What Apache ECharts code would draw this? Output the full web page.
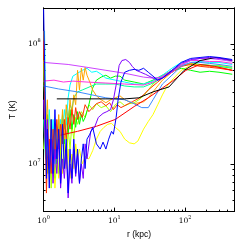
<!DOCTYPE html>
<html><head><meta charset="utf-8">
<script src="https://cdn.jsdelivr.net/npm/echarts@6/dist/echarts.min.js"></script>
<style>html,body{margin:0;padding:0;background:#fff}#c{width:240px;height:244px}</style>
</head><body><div id="c"></div>
<script>
const xMajor = [1, 10, 100];
const xMinor = [2,3,4,5,6,7,8,9,20,30,40,50,60,70,80,90,200,300,400];
const yMajor = [1e7, 1e8];
const yMinor = [5e6,6e6,7e6,8e6,9e6,2e7,3e7,4e7,5e7,6e7,7e7,8e7,9e7];

const blueNoisy = [[1,1.95e8],[1.031,7.29e7],[1.063,2.35e7],[1.096,7.57e6],[1.131,1.95e7],[1.202,6.28e6],[1.279,2.35e7],[1.359,8.32e6],[1.445,2.84e7],[1.537,1.10e7],[1.634,1.95e7],[1.738,6.89e6],[1.848,2.14e7],[1.965,9.14e6],[2.089,1.61e7],[2.222,5.71e6],[2.362,1.33e7],[2.512,7.57e6],[2.671,1.61e7],[2.840,8.32e6],[3.020,1.33e7],[3.211,6.89e6],[3.415,1.10e7],[3.631,1.47e7],[3.861,9.14e6],[4.105,1.61e7],[4.50,1.77e7],[4.94,2.02e7],[5.58,1.47e7],[6.31,1.33e7],[6.92,1.52e7],[7.59,1.33e7],[8.32,1.61e7],[9.12,1.87e7],[9.70,1.77e7],[10.6,2.44e7],[11.3,3.43e7],[12.4,4.82e7],[14.02,5.82e7],[16.34,6.04e7],[19.05,6.15e7],[22.2,6.04e7],[25.9,6.28e7],[30.2,5.82e7],[35.2,5.40e7],[41.1,5.00e7],[47.9,5.20e7],[65.1,6.04e7],[88.4,7.03e7],[120,7.59e7],[163,7.73e7],[222,7.87e7],[302,7.73e7],[464,7.43e7]];
const violet = [[1,3.43e7],[1.063,1.33e7],[1.131,2.35e7],[1.202,9.14e6],[1.279,1.61e7],[1.359,6.89e6],[1.445,1.33e7],[1.537,8.32e6],[1.634,1.61e7],[1.738,6.28e6],[1.848,1.10e7],[1.965,7.57e6],[2.089,1.33e7],[2.222,5.20e6],[2.362,1.00e7],[2.512,6.89e6],[2.671,1.33e7],[2.840,7.87e6],[3.020,1.21e7],[3.211,6.89e6],[3.415,1.00e7],[3.631,7.57e6],[3.861,1.47e7],[4.105,1.10e7],[4.64,1.87e7],[5.25,2.02e7],[5.93,2.44e7],[6.92,2.64e7],[7.82,2.73e7],[8.84,2.84e7],[9.70,3.43e7],[10.6,4.55e7],[11.7,6.64e7],[12.8,7.29e7],[14.5,7.43e7],[16.34,7.03e7],[17.9,6.52e7],[20.3,6.04e7],[23.6,5.82e7],[27.5,5.60e7],[33.1,5.30e7],[41.1,5.00e7],[50.9,5.30e7],[65.1,5.93e7],[88.4,6.90e7],[120,7.43e7],[163,7.59e7],[222,7.73e7],[302,7.59e7],[464,7.29e7]];
const green = [[1,7.29e7],[1.063,1.61e7],[1.131,2.58e7],[1.202,1.00e7],[1.279,1.95e7],[1.359,8.32e6],[1.445,2.14e7],[1.537,1.00e7],[1.634,2.35e7],[1.738,1.33e7],[1.848,2.58e7],[1.965,1.47e7],[2.089,2.44e7],[2.222,1.77e7],[2.362,2.84e7],[2.512,1.95e7],[2.671,2.58e7],[2.840,2.02e7],[3.020,2.73e7],[3.211,2.14e7],[3.415,2.58e7],[3.631,2.26e7],[3.861,2.44e7],[4.365,3.12e7],[4.94,4.30e7],[5.58,5.00e7],[6.51,5.30e7],[7.59,5.50e7],[8.84,5.20e7],[10.31,5.40e7],[12.02,5.40e7],[14.02,5.00e7],[19.05,4.82e7],[25.9,4.64e7],[35.2,5.00e7],[47.9,5.50e7],[65.1,5.93e7],[88.4,6.28e7],[120,6.04e7],[163,5.82e7],[222,5.93e7],[302,5.82e7],[464,5.60e7]];
const cyan = [[1.031,1.29e8],[1.063,3.43e7],[1.131,1.61e7],[1.202,2.84e7],[1.279,1.33e7],[1.359,2.35e7],[1.445,1.00e7],[1.537,1.95e7],[1.634,1.33e7],[1.738,2.35e7],[1.848,1.61e7],[1.965,2.84e7],[2.089,2.14e7],[2.222,3.56e7],[2.362,4.55e7],[2.59,5.40e7],[3.020,5.71e7],[3.52,6.04e7],[4.105,6.28e7],[4.786,5.82e7],[5.58,5.93e7],[6.51,5.60e7],[7.59,5.20e7],[10.31,5.00e7],[14.02,4.82e7],[19.05,4.64e7],[25.9,4.64e7],[35.2,4.91e7],[47.9,5.50e7],[65.1,6.28e7],[88.4,7.03e7],[120,7.29e7],[163,7.16e7],[222,7.03e7],[302,7.03e7],[464,6.76e7]];
const aqua = [[1,2.35e7],[1.063,1.10e7],[1.131,1.95e7],[1.202,8.32e6],[1.279,1.61e7],[1.359,1.10e7],[1.445,1.77e7],[1.537,1.33e7],[1.634,2.14e7],[1.738,1.61e7],[1.848,2.44e7],[1.965,1.95e7],[2.089,2.84e7],[2.222,2.44e7],[2.362,3.12e7],[2.512,2.84e7],[2.671,3.56e7],[2.840,3.43e7],[3.020,3.99e7],[3.52,4.14e7],[4.105,4.30e7],[4.786,4.47e7],[5.58,4.64e7],[7.59,4.64e7],[10.31,4.64e7],[14.02,4.47e7],[19.05,4.39e7],[25.9,4.39e7],[35.2,4.73e7],[47.9,5.30e7],[65.1,6.04e7],[88.4,6.64e7],[120,6.90e7],[163,6.76e7],[222,6.64e7],[302,6.52e7],[464,6.28e7]];
const yellowGreen = [[1,1.33e7],[1.063,2.35e7],[1.131,8.32e6],[1.202,1.61e7],[1.279,6.28e6],[1.359,1.33e7],[1.445,7.57e6],[1.537,1.61e7],[1.634,8.32e6],[1.738,1.33e7],[1.848,9.14e6],[1.965,1.61e7],[2.089,1.00e7],[2.222,1.95e7],[2.362,1.33e7],[2.512,2.14e7],[2.671,1.61e7],[2.840,2.44e7],[3.020,2.14e7],[3.415,2.73e7],[3.861,2.44e7],[4.365,3.12e7],[4.94,2.84e7],[5.58,3.18e7],[6.51,2.95e7],[7.59,3.06e7],[8.84,2.73e7],[10.31,3.12e7],[12.02,3.30e7],[14.02,3.06e7],[16.34,3.18e7],[19.05,3.24e7],[22.2,3.43e7],[25.9,3.70e7],[30.2,4.14e7],[35.2,4.64e7],[47.9,5.40e7],[65.1,6.04e7],[88.4,6.64e7],[120,6.90e7],[163,6.76e7],[222,6.64e7],[302,6.64e7],[464,6.40e7]];
const orange = [[1,1.29e8],[1.063,1.61e7],[1.131,3.43e7],[1.202,1.10e7],[1.279,2.35e7],[1.359,9.14e6],[1.445,1.95e7],[1.537,1.21e7],[1.634,2.58e7],[1.738,1.33e7],[1.848,2.84e7],[1.965,1.61e7],[2.089,3.12e7],[2.222,2.14e7],[2.362,3.43e7],[2.512,2.58e7],[2.671,3.77e7],[2.840,3.12e7],[3.020,6.04e7],[3.211,4.14e7],[3.415,6.28e7],[3.631,5.00e7],[3.861,6.40e7],[4.105,5.50e7],[4.50,4.82e7],[4.94,4.14e7],[5.58,3.70e7],[6.51,3.43e7],[7.59,3.24e7],[8.84,3.43e7],[10.31,3.56e7],[12.02,3.70e7],[14.02,3.43e7],[16.34,3.30e7],[19.05,3.18e7],[22.2,3.24e7],[25.9,3.30e7],[30.2,3.56e7],[35.2,3.99e7],[41.1,4.47e7],[47.9,5.00e7],[65.1,5.82e7],[88.4,6.52e7],[120,6.90e7],[163,6.64e7],[222,6.52e7],[302,6.40e7],[464,6.04e7]];
const redNoisy = [[1,1.06e8],[1.063,1.33e7],[1.096,5.71e6],[1.131,1.10e7],[1.202,1.61e7],[1.279,8.32e6],[1.359,1.95e7],[1.445,1.10e7],[1.537,2.35e7],[1.634,1.33e7],[1.738,2.14e7],[1.848,1.47e7],[1.965,2.35e7],[2.089,1.61e7],[2.222,2.44e7],[2.362,1.95e7],[2.512,2.84e7],[2.671,2.14e7],[2.840,2.95e7],[3.020,2.35e7],[3.211,2.73e7],[3.52,2.44e7],[3.861,3.12e7],[4.365,2.73e7],[4.94,2.95e7],[5.58,3.18e7],[6.51,3.30e7],[7.59,3.06e7],[8.58,3.24e7],[9.70,2.84e7],[11.0,3.12e7],[12.4,2.95e7],[14.02,3.06e7],[15.8,3.18e7],[17.9,3.30e7],[20.3,3.43e7],[22.9,3.56e7],[25.9,3.77e7],[30.2,4.14e7],[35.2,4.47e7],[41.1,4.82e7],[47.9,5.20e7],[65.1,5.82e7],[88.4,6.52e7],[120,6.76e7],[163,6.52e7],[222,6.40e7],[302,6.28e7],[464,6.04e7]];
const yellow = [[1,7.29e7],[1.063,1.95e7],[1.131,9.14e6],[1.202,1.61e7],[1.279,7.57e6],[1.359,1.33e7],[1.445,6.28e6],[1.537,1.10e7],[1.634,7.57e6],[1.738,1.33e7],[1.848,8.32e6],[1.965,1.47e7],[2.089,9.14e6],[2.222,1.33e7],[2.362,7.57e6],[2.512,1.21e7],[2.671,9.14e6],[2.840,1.47e7],[3.020,1.10e7],[3.211,1.33e7],[3.52,1.00e7],[3.861,1.15e7],[4.365,1.10e7],[4.94,1.29e7],[5.58,1.61e7],[6.31,1.87e7],[7.13,2.02e7],[8.07,2.14e7],[9.12,2.18e7],[10.31,2.02e7],[12.02,1.87e7],[14.02,1.61e7],[16.34,1.50e7],[19.05,1.47e7],[21.5,1.55e7],[25.9,1.95e7],[30.2,2.26e7],[35.2,2.58e7],[41.1,3.12e7],[47.9,3.77e7],[55.8,4.47e7],[65.1,5.00e7],[88.4,6.04e7],[120,6.64e7],[163,6.76e7],[222,6.64e7],[302,6.52e7],[464,6.28e7]];
const lightPurple = [[1,7.03e7],[2.222,6.76e7],[4.105,6.40e7],[7.59,6.04e7],[14.02,5.71e7],[25.9,5.30e7],[35.2,5.20e7],[47.9,5.30e7],[65.1,5.82e7],[88.4,6.64e7],[120,7.29e7],[163,7.59e7],[222,7.59e7],[302,7.43e7],[464,7.16e7]];
const pink = [[1,4.91e7],[1.401,5.00e7],[1.905,4.82e7],[2.59,4.91e7],[4.105,4.82e7],[7.59,4.73e7],[14.02,4.64e7],[25.9,4.55e7],[35.2,4.82e7],[47.9,5.40e7],[65.1,6.04e7],[88.4,6.76e7],[120,7.29e7],[163,7.29e7],[222,7.16e7],[302,7.16e7],[464,6.90e7]];
const lightBlue = [[1,4.47e7],[1.634,4.22e7],[3.020,3.99e7],[5.58,3.70e7],[7.59,3.56e7],[10.31,3.49e7],[14.02,3.43e7],[19.05,3.18e7],[24.4,2.95e7],[30.2,2.95e7],[35.2,3.43e7],[41.1,3.99e7],[47.9,4.64e7],[65.1,5.50e7],[88.4,6.52e7],[120,7.03e7],[163,7.03e7],[222,6.90e7],[302,6.76e7],[464,6.52e7]];
const black = [[1.537,3.49e7],[2.222,3.49e7],[4.105,3.49e7],[7.59,3.49e7],[14.02,3.49e7],[22.2,3.56e7],[35.2,3.99e7],[59.3,4.39e7],[97.0,6.04e7],[163,7.29e7],[275,7.73e7],[464,7.29e7]];
const redSmooth = [[1.738,1.74e7],[3.020,1.87e7],[5.58,2.06e7],[10.31,2.35e7],[19.05,3.01e7],[30.2,3.56e7],[47.9,4.30e7],[69.2,5.00e7],[103,6.04e7],[163,6.76e7],[259,6.52e7],[464,6.04e7]];

const lines = [
  ['yellow', yellow, '#ffff00'],
  ['yellowGreen', yellowGreen, '#aaff00'],
  ['green', green, '#00ff00'],
  ['aqua', aqua, '#00ff99'],
  ['cyan', cyan, '#00ffff'],
  ['orange', orange, '#ffa500'],
  ['redNoisy', redNoisy, '#ff3300'],
  ['lightBlue', lightBlue, '#3d8bff'],
  ['pink', pink, '#ff33dd'],
  ['lightPurple', lightPurple, '#cc44ff'],
  ['redSmooth', redSmooth, '#ff0000'],
  ['black', black, '#000000'],
  ['violet', violet, '#7f00ff'],
  ['blue', blueNoisy, '#0000ff']
];

const FONT = 'DejaVu Serif';
const rich = {b:{fontFamily:FONT,fontSize:7.5,color:'#000'}, s:{fontFamily:FONT,fontSize:5,color:'#000',padding:[0,0,6,0]}};
function fmt(v){ return '{b|10}{s|' + Math.round(Math.log10(v)) + '}'; }

function xAx(pos, major, label) {
  return {type:'log', logBase:10, min:1, max:500, position:pos, gridIndex:0,
    axisLine:{show:true, onZero:false, lineStyle:{color:'#000', width:1}},
    axisTick:{show:true, inside:true, length: major?4:2, customValues: major?xMajor:xMinor, lineStyle:{color:'#000', width:1}},
    axisLabel: label ? {show:true, customValues:xMajor, formatter:fmt, rich:rich, margin:4} : {show:false},
    splitLine:{show:false}, minorTick:{show:false},
    name: label ? 'r (kpc)' : '', nameLocation:'middle', nameGap:14,
    nameTextStyle:{fontFamily:'Liberation Sans', fontSize:8.5, color:'#000'}};
}
function yAx(pos, major, label) {
  return {type:'log', logBase:10, min:4e6, max:2e8, position:pos, gridIndex:0,
    axisLine:{show:true, onZero:false, lineStyle:{color:'#000', width:1}},
    axisTick:{show:true, inside:true, length: major?4:2, customValues: major?yMajor:yMinor, lineStyle:{color:'#000', width:1}},
    axisLabel: label ? {show:true, customValues:yMajor, formatter:fmt, rich:rich, margin:3} : {show:false},
    splitLine:{show:false}, minorTick:{show:false},
    name: label ? 'T (K)' : '', nameLocation:'middle', nameGap:13,
    nameTextStyle:{fontFamily:'Liberation Sans', fontSize:8.5, color:'#000'}};
}

const chart = echarts.init(document.getElementById('c'), null, {renderer:'canvas'});
chart.setOption({
  animation:false,
  backgroundColor:'#fff',
  grid:{left:33, right:5.5, top:8, bottom:31, containLabel:false},
  xAxis:[xAx('bottom',true,true), xAx('bottom',false,false), xAx('top',true,false), xAx('top',false,false)],
  yAxis:[yAx('left',true,true), yAx('left',false,false), yAx('right',true,false), yAx('right',false,false)],
  series: lines.map(([n,d,c]) => ({type:'line', name:n, data:d, xAxisIndex:0, yAxisIndex:0,
    showSymbol:false, symbol:'none', clip:true, lineStyle:{width:1, color:c}, itemStyle:{color:c}}))
});
</script></body></html>
